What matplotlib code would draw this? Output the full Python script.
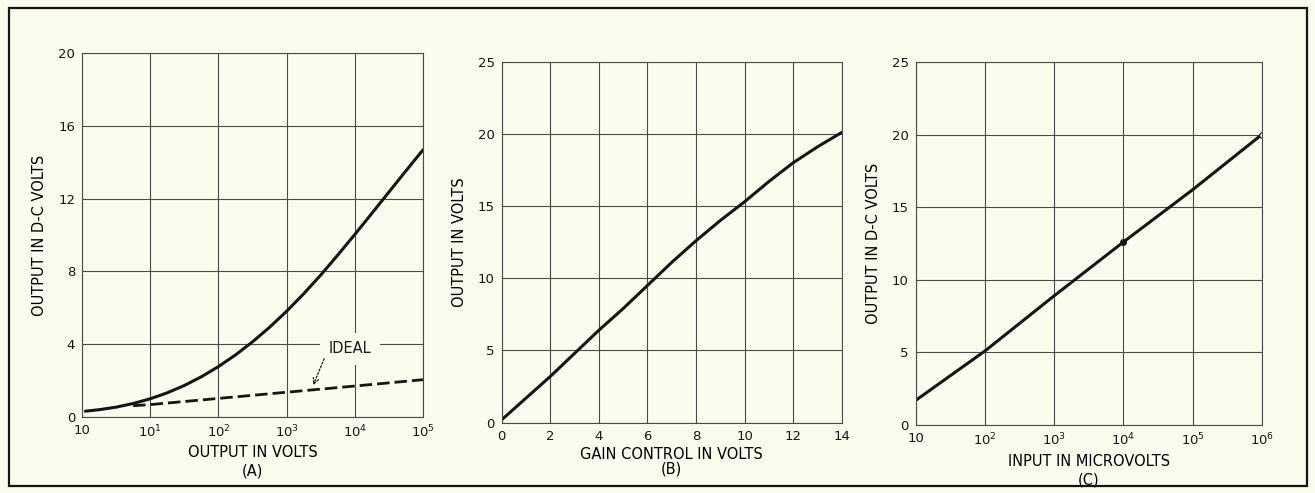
import matplotlib
matplotlib.use('Agg')
import matplotlib.pyplot as plt
from matplotlib.patches import Rectangle

plt.rcParams.update({
    'font.family': 'DejaVu Sans',
    'mathtext.fontset': 'dejavusans',
    'font.size': 10,
    'text.color': '#1a1a1a',
})

PAPER = '#fbfbee'
INK = '#151515'
GRID = '#4a4a4a'

# (A) rectified output vs. a-c output, with the ideal logarithmic response
A_X = [1.12, 1.78, 3.16, 5.62, 10, 17.8, 31.6, 56.2, 100, 178, 316, 562, 1000,
       1778, 3162, 5623, 1e4, 17783, 31623, 56234, 1e5]
A_Y = [0.32, 0.40, 0.54, 0.74, 1.0, 1.33, 1.73, 2.21, 2.77, 3.41, 4.13, 4.93, 5.81,
       6.77, 7.8, 8.9, 10.03, 11.19, 12.36, 13.53, 14.68]
IDEAL_X = [5.6, 10, 100, 1000, 1e4, 1e5]
IDEAL_Y = [0.62, 0.68, 1.02, 1.36, 1.7, 2.05]
A_XTICKS = [1, 10, 100, 1000, 1e4, 1e5]
A_XLABELS = ['10', '$10^1$', '$10^2$', '$10^3$', '$10^4$', '$10^5$']
A_YTICKS = [0, 4, 8, 12, 16, 20]

# (B) output vs. gain control voltage
B_X = [0, 1, 2, 3, 4, 5, 6, 7, 8, 9, 10, 11, 12, 13, 14]
B_Y = [0.2, 1.7, 3.2, 4.8, 6.4, 7.9, 9.5, 11.1, 12.6, 14.0, 15.3, 16.7, 18.0, 19.1, 20.1]
B_XTICKS = [0, 2, 4, 6, 8, 10, 12, 14]
B_YTICKS = [0, 5, 10, 15, 20, 25]

# (C) d-c output vs. input in microvolts
C_X = [10, 100, 1000, 1e4, 1e5, 1e6]
C_Y = [1.7, 5.1, 8.9, 12.6, 16.2, 20.0]
C_XTICKS = [10, 100, 1000, 1e4, 1e5, 1e6]
C_XLABELS = ['10', '$10^2$', '$10^3$', '$10^4$', '$10^5$', '$10^6$']
C_YTICKS = [0, 5, 10, 15, 20, 25]


def style_axes(ax):
    ax.set_facecolor('none')
    ax.grid(True, color=GRID, linewidth=0.8)
    ax.set_axisbelow(True)
    for s in ax.spines.values():
        s.set_color(GRID)
        s.set_linewidth(0.8)
    ax.tick_params(length=0, labelsize=9.5, pad=5, colors=INK)
    ax.minorticks_off()


fig = plt.figure(figsize=(13.15, 4.93), dpi=100, facecolor=PAPER)

# outer frame round the whole figure
fig.patches.append(Rectangle((9 / 1315, 1 - 486 / 493), 1298 / 1315, 478 / 493,
                             transform=fig.transFigure, fill=False,
                             edgecolor=INK, linewidth=1.6))

# --- (A)
ax = fig.add_axes([0.0624, 0.1542, 0.2593, 0.7383])
ax.set_xscale('log')
ax.plot(A_X, A_Y, color=INK, linewidth=2.2, solid_capstyle='round')
ax.plot(IDEAL_X, IDEAL_Y, color=INK, linewidth=2.0, dashes=(4.5, 1.8))
ax.set_xlim(1, 1e5)
ax.set_ylim(0, 20)
ax.set_xticks(A_XTICKS)
ax.set_xticklabels(A_XLABELS)
ax.set_yticks(A_YTICKS)
style_axes(ax)
ax.text(10**3.93, 3.75, 'IDEAL', ha='center', va='center', fontsize=10.5,
        bbox=dict(facecolor=PAPER, edgecolor='none', pad=6))
ax.annotate('', xy=(10**3.39, 1.75), xytext=(10**3.55, 3.2),
            arrowprops=dict(arrowstyle='->', color=INK, linestyle=(0, (1.5, 1.5)),
                            linewidth=0.9, shrinkA=0, shrinkB=0))
ax.set_xlabel('OUTPUT IN VOLTS\n(A)', fontsize=10.5, labelpad=3, linespacing=1.3)
ax.set_ylabel('OUTPUT IN D-C VOLTS', fontsize=10.5, labelpad=8)

# --- (B)
ax = fig.add_axes([0.3815, 0.1426, 0.2586, 0.7323])
ax.plot(B_X, B_Y, color=INK, linewidth=2.2, solid_capstyle='round')
ax.set_xlim(0, 14)
ax.set_ylim(0, 25)
ax.set_xticks(B_XTICKS)
ax.set_yticks(B_YTICKS)
style_axes(ax)
ax.set_xlabel('GAIN CONTROL IN VOLTS\n(B)', fontsize=10.5, labelpad=3, linespacing=1.0)
ax.set_ylabel('OUTPUT IN VOLTS', fontsize=10.5, labelpad=8)

# --- (C)
ax = fig.add_axes([0.6964, 0.1379, 0.2631, 0.7363])
ax.set_xscale('log')
ax.plot(C_X, C_Y, color=INK, linewidth=2.2, solid_capstyle='round')
ax.plot(C_X[3], C_Y[3], 'o', color=INK, markersize=4)
ax.plot(C_X[-1], C_Y[-1], 'o', markerfacecolor=PAPER, markeredgecolor=INK,
        markersize=4, markeredgewidth=0.8)
ax.set_xlim(10, 1e6)
ax.set_ylim(0, 25)
ax.set_xticks(C_XTICKS)
ax.set_xticklabels(C_XLABELS)
ax.set_yticks(C_YTICKS)
style_axes(ax)
ax.set_xlabel('INPUT IN MICROVOLTS\n(C)', fontsize=10.5, labelpad=4, linespacing=1.3)
ax.set_ylabel('OUTPUT IN D-C VOLTS', fontsize=10.5, labelpad=8)

fig.savefig('out.png', dpi=100, facecolor=PAPER)
